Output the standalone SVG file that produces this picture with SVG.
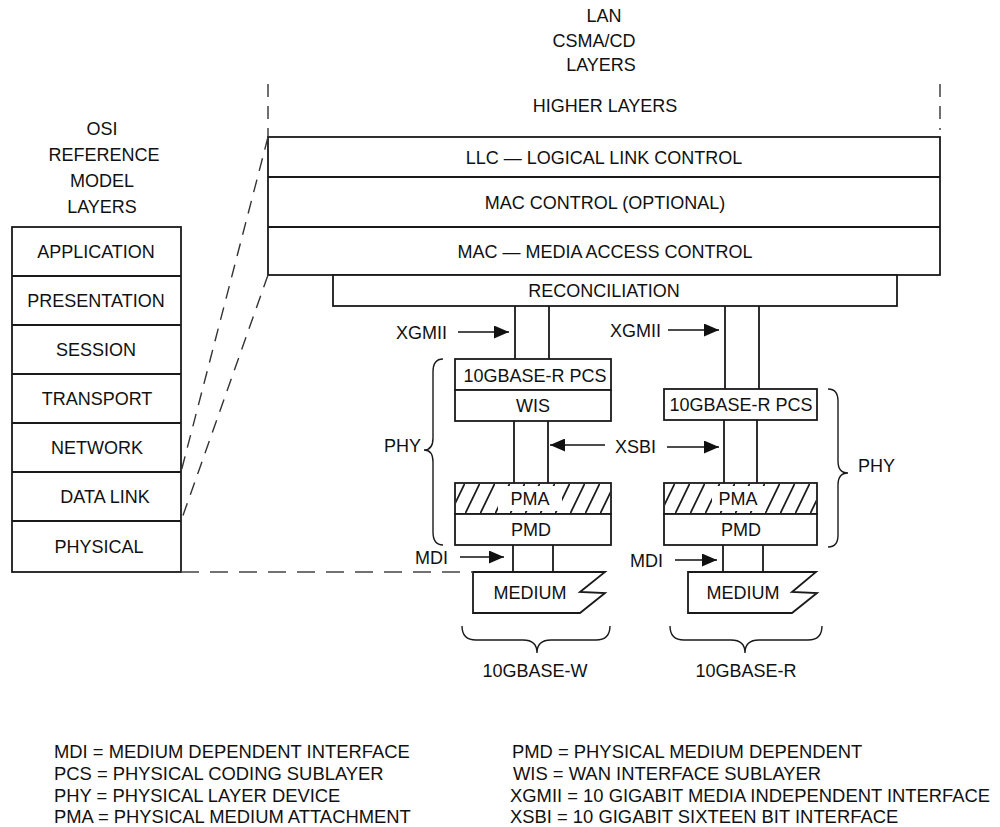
<svg xmlns="http://www.w3.org/2000/svg" width="1000" height="827" viewBox="0 0 1000 827">
<style>
text{font-family:"Liberation Sans",Arial,Helvetica,sans-serif;font-size:18px;fill:#111}
.m{text-anchor:middle}
.e{text-anchor:end}
.lg{font-size:18.4px}
.b{fill:#fff;stroke:#1a1a1a;stroke-width:1.8}
.ln{fill:none;stroke:#1a1a1a;stroke-width:1.8}
.d{fill:none;stroke:#333;stroke-width:1.4;stroke-dasharray:13 9}
.dh{fill:none;stroke:#444;stroke-width:1.4;stroke-dasharray:18 11}
.ar{fill:none;stroke:#111;stroke-width:1.6;marker-end:url(#ah)}
.br{fill:none;stroke:#1a1a1a;stroke-width:1.4}
</style>
<defs>
<marker id="ah" markerUnits="userSpaceOnUse" markerWidth="15" markerHeight="13" refX="15" refY="6.5" orient="auto">
<path d="M0,0 L15,6.5 L0,13 Z" fill="#111"/>
</marker>
<pattern id="hatch" patternUnits="userSpaceOnUse" x="0" y="483" width="15" height="31">
<line x1="-1" y1="33" x2="16" y2="-2" stroke="#1a1a1a" stroke-width="1.8"/>
</pattern>
</defs>
<rect width="1000" height="827" fill="#fff"/>

<g id="osi-title">
<text class="m" x="102" y="135">OSI</text>
<text class="m" x="104" y="161">REFERENCE</text>
<text class="m" x="102" y="187">MODEL</text>
<text class="m" x="102" y="213">LAYERS</text>
</g>
<g id="osi-stack">
<rect class="b" x="12" y="227" width="169" height="345"/>
<path class="ln" d="M12,276H181M12,325H181M12,374H181M12,423H181M12,472H181M12,521H181"/>
<text class="m" x="96" y="258">APPLICATION</text>
<text class="m" x="96" y="307">PRESENTATION</text>
<text class="m" x="96" y="356">SESSION</text>
<text class="m" x="97" y="405">TRANSPORT</text>
<text class="m" x="97" y="454">NETWORK</text>
<text class="m" x="105" y="503">DATA LINK</text>
<text class="m" x="99" y="553">PHYSICAL</text>
</g>

<g id="lan-title">
<text class="m" x="604" y="22">LAN</text>
<text class="m" x="594" y="47">CSMA/CD</text>
<text class="m" x="601" y="71">LAYERS</text>
<text class="m" x="605" y="112">HIGHER LAYERS</text>
</g>
<g id="lan-stack">
<rect class="b" x="268" y="137" width="672" height="138"/>
<path class="ln" d="M268,177H940M268,227H940"/>
<text class="m" x="604" y="164">LLC — LOGICAL LINK CONTROL</text>
<text class="m" x="605" y="209">MAC CONTROL (OPTIONAL)</text>
<text class="m" x="605" y="258">MAC — MEDIA ACCESS CONTROL</text>
</g>
<g id="reconciliation">
<rect class="b" x="333" y="275" width="564" height="31"/>
<text class="m" x="604" y="297">RECONCILIATION</text>
</g>

<g id="w-pcs">
<rect class="b" x="455" y="359" width="156" height="31"/>
<text class="m" x="535" y="382">10GBASE-R PCS</text>
</g>
<g id="w-wis">
<rect class="b" x="455" y="390" width="156" height="31"/>
<text class="m" x="533" y="412">WIS</text>
</g>
<g id="w-pma">
<rect class="b" x="455" y="483" width="156" height="31"/>
<rect x="456" y="484" width="154" height="29" fill="url(#hatch)"/>
<rect x="498" y="486" width="64" height="25" fill="#fff"/>
<text class="m" x="530" y="505">PMA</text>
</g>
<g id="w-pmd">
<rect class="b" x="455" y="514" width="156" height="31"/>
<text class="m" x="531" y="536">PMD</text>
</g>
<g id="w-medium">
<path class="b" d="M473,572 L605,572 L580,592 L605,593 L580,613 L473,613 Z"/>
<text class="m" x="530" y="599">MEDIUM</text>
</g>

<g id="r-pcs">
<rect class="b" x="664" y="389" width="153" height="31"/>
<text class="m" x="741" y="411">10GBASE-R PCS</text>
</g>
<g id="r-pma">
<rect class="b" x="664" y="483" width="153" height="31"/>
<rect x="665" y="484" width="151" height="29" fill="url(#hatch)"/>
<rect x="712" y="486" width="54" height="25" fill="#fff"/>
<text class="m" x="738" y="505">PMA</text>
</g>
<g id="r-pmd">
<rect class="b" x="664" y="514" width="153" height="31"/>
<text class="m" x="741" y="536">PMD</text>
</g>
<g id="r-medium">
<path class="b" d="M688,572 L816,572 L792,592 L817,593 L792,613 L688,613 Z"/>
<text class="m" x="743" y="599">MEDIUM</text>
</g>

<g id="labels">
<text class="e" x="447" y="339">XGMII</text>
<text class="e" x="661" y="337">XGMII</text>
<text x="615" y="453">XSBI</text>
<text class="e" x="448" y="564">MDI</text>
<text class="e" x="663" y="567">MDI</text>
<text class="e" x="421" y="452">PHY</text>
<text x="858" y="472">PHY</text>
<text class="m" x="535" y="677">10GBASE-W</text>
<text class="m" x="746" y="677">10GBASE-R</text>
</g>

<g id="connectors">
<path class="ln" d="M515,306V359M549,306V359M514,421V483M548,421V483M513,545V572M553,545V572"/>
<path class="ln" d="M725,306V389M759,306V389M724,420V483M757,420V483M723,545V572M763,545V572"/>
<path class="ar" d="M458,332H509"/>
<path class="ar" d="M668,330H719"/>
<path class="ar" d="M605,445H550"/>
<path class="ar" d="M667,447H719"/>
<path class="ar" d="M460,557H504"/>
<path class="ar" d="M675,560H717"/>
<path class="d" d="M268,84V137"/>
<path class="d" d="M940,84V130"/>
<path class="d" d="M268,137L181,472"/>
<path class="d" d="M268,275L181,521"/>
<path class="dh" d="M181,572H473"/>
<path class="br" d="M443,359Q433,359 433,372L433,438Q433,450 424,450Q433,450 433,462L433,532Q433,545 443,545"/>
<path class="br" d="M828,389Q838,389 838,401L838,461Q838,473 848,473Q838,473 838,485L838,535Q838,547 828,547"/>
<path class="br" d="M462,626Q462,640 476,640L523,640Q537,640 537,653Q537,640 551,640L596,640Q610,640 610,626"/>
<path class="br" d="M670,626Q670,640 684,640L731,640Q745,640 745,653Q745,640 759,640L808,640Q822,640 822,626"/>
</g>

<g id="legend">
<text class="lg" x="54" y="758">MDI = MEDIUM DEPENDENT INTERFACE</text>
<text class="lg" x="54" y="780">PCS = PHYSICAL CODING SUBLAYER</text>
<text class="lg" x="54" y="802">PHY = PHYSICAL LAYER DEVICE</text>
<text class="lg" x="54" y="823">PMA = PHYSICAL MEDIUM ATTACHMENT</text>
<text class="lg" x="512" y="758">PMD = PHYSICAL MEDIUM DEPENDENT</text>
<text class="lg" x="513" y="780">WIS = WAN INTERFACE SUBLAYER</text>
<text class="lg" x="510" y="802">XGMII = 10 GIGABIT MEDIA INDEPENDENT INTERFACE</text>
<text class="lg" x="510" y="823">XSBI = 10 GIGABIT SIXTEEN BIT INTERFACE</text>
</g>
</svg>
